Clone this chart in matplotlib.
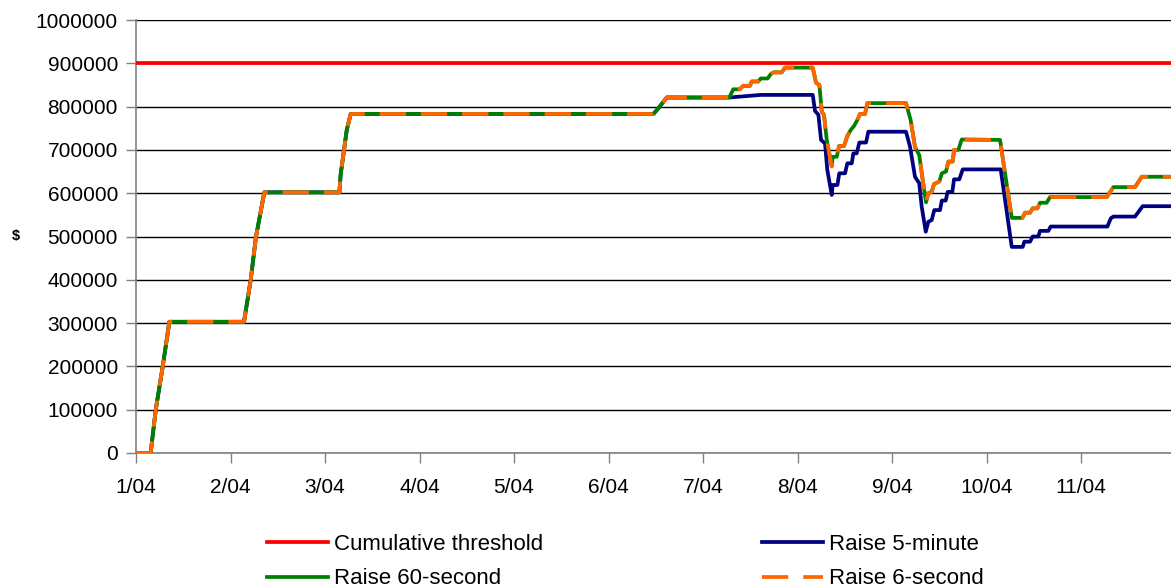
import matplotlib
matplotlib.use("Agg")
import matplotlib.pyplot as plt
from matplotlib.lines import Line2D

plt.rcParams['font.family'] = ['Liberation Sans', 'DejaVu Sans']

# x in months since 1 Jan 2004 (0 = 1/04), y in $
month_labels = ["1/04", "2/04", "3/04", "4/04", "5/04", "6/04",
                "7/04", "8/04", "9/04", "10/04", "11/04"]
x_end = 10.952

threshold_value = 900000

common_x = [0.0, 0.155, 0.209, 0.283, 0.353, 1.143, 1.214, 1.270, 1.358,
            2.152, 2.165, 2.230, 2.272, 5.475, 5.527, 5.616, 6.278]
common_y = [0, 0, 100000, 200000, 303000, 303000, 400000, 500000, 602000,
            602000, 642000, 746000, 783000, 783000, 796000, 821000, 821000]

raise5m_x = [6.610, 7.161, 7.185, 7.221, 7.249, 7.291, 7.315, 7.362, 7.372,
             7.422, 7.442, 7.503, 7.527, 7.574, 7.591, 7.626, 7.654, 7.725,
             7.749, 8.148, 8.191, 8.243, 8.288, 8.314, 8.357, 8.384, 8.420,
             8.447, 8.508, 8.527, 8.568, 8.589, 8.638, 8.656, 8.712, 8.748,
             9.150, 9.267, 9.383, 9.400, 9.461, 9.488, 9.548, 9.566, 9.654,
             9.679, 10.279, 10.315, 10.342, 10.571, 10.652, 10.952]
raise5m_y = [827000, 827000, 790000, 781000, 723000, 715000, 654000, 596000,
             619000, 619000, 646000, 646000, 669000, 669000, 692000, 692000,
             717000, 717000, 742000, 742000, 707000, 638000, 623000, 569000,
             511000, 534000, 538000, 561000, 561000, 583000, 583000, 603000,
             603000, 632000, 632000, 655000, 655000, 476000, 476000, 488000,
             488000, 500000, 500000, 513000, 513000, 523000, 523000, 542000,
             546000, 546000, 570000, 570000]

raise60s_x = [6.320, 6.389, 6.426, 6.497, 6.515, 6.585, 6.610, 6.684, 6.716,
              6.745, 6.833, 6.868, 7.161, 7.196, 7.231, 7.257, 7.280, 7.309,
              7.362, 7.372, 7.415, 7.440, 7.492, 7.527, 7.563, 7.597, 7.633,
              7.662, 7.714, 7.739, 8.148, 8.197, 8.243, 8.288, 8.325, 8.360,
              8.384, 8.420, 8.444, 8.501, 8.527, 8.571, 8.596, 8.642, 8.656,
              8.702, 8.737, 9.143, 9.267, 9.380, 9.407, 9.461, 9.488, 9.538,
              9.566, 9.636, 9.672, 10.272, 10.342, 10.571, 10.643, 10.952]
raise60s_y = [840000, 840000, 848000, 848000, 858000, 858000, 865000, 865000,
              875000, 879000, 879000, 890000, 890000, 855000, 850000, 788000,
              781000, 723000, 662000, 684000, 684000, 709000, 709000, 732000,
              746000, 755000, 769000, 783000, 783000, 808000, 808000, 769000,
              707000, 688000, 630000, 579000, 600000, 603000, 621000, 627000,
              646000, 650000, 673000, 673000, 700000, 700000, 724000, 723000,
              543000, 543000, 555000, 555000, 565000, 565000, 578000, 578000,
              591000, 591000, 614000, 614000, 638000, 638000]

raise6s_x = list(raise60s_x)
raise6s_y = list(raise60s_y)

W, H = 1171, 587
fig = plt.figure(figsize=(W / 100, H / 100), dpi=100)
ax = fig.add_axes([136 / W, 1 - 453 / H, (W - 136) / W, (453 - 20) / H])

lw = 2.7
red, navy, green, orange = "#FF0000", "#000080", "#008000", "#FF6600"
dash = (7, 4)

ax.plot([0, x_end], [threshold_value, threshold_value], color=red, lw=lw,
        zorder=3, solid_capstyle='butt')
ax.plot(common_x + raise5m_x, common_y + raise5m_y, color=navy, lw=lw, zorder=3)
ax.plot(common_x + raise60s_x, common_y + raise60s_y, color=green, lw=lw, zorder=4)
ax.plot(common_x + raise6s_x, common_y + raise6s_y, color=orange, lw=lw,
        dashes=dash, zorder=5)

ax.set_xlim(0, x_end)
ax.set_ylim(0, 1000000)
ax.set_yticks(range(0, 1000001, 100000))
ax.set_yticklabels([str(v) for v in range(0, 1000001, 100000)])
ax.set_xticks(range(len(month_labels)))
ax.set_xticklabels(month_labels)
ax.tick_params(axis='both', labelsize=15, color='#808080', length=7, width=1,
               direction='out')
ax.tick_params(axis='x', pad=11)
ax.tick_params(axis='y', pad=6)
ax.yaxis.grid(True, color='black', lw=1)
ax.xaxis.grid(False)
ax.set_axisbelow(True)
for s in ['top', 'right']:
    ax.spines[s].set_visible(False)
for s in ['left', 'bottom']:
    ax.spines[s].set_color('#808080')
    ax.spines[s].set_linewidth(1.2)

fig.text(16 / W, 1 - 236 / H, "$", fontsize=10.5, fontweight='bold',
         ha='center', va='center')

h_red = Line2D([], [], color=red, lw=lw)
h_navy = Line2D([], [], color=navy, lw=lw)
h_green = Line2D([], [], color=green, lw=lw)
h_orange = Line2D([], [], color=orange, lw=lw, dashes=dash)

kw = dict(frameon=False, fontsize=16, borderpad=0, borderaxespad=0,
          handlelength=2.73, handletextpad=0.27, labelspacing=0.62,
          loc='upper left')
leg1 = fig.legend([h_red, h_green], ["Cumulative threshold", "Raise 60-second"],
                  bbox_to_anchor=(267 / W, 1 - 533.5 / H), **kw)
leg2 = fig.legend([h_navy, h_orange], ["Raise 5-minute", "Raise 6-second"],
                  bbox_to_anchor=(762 / W, 1 - 533.5 / H), **kw)

fig.savefig("out.png", dpi=100)
